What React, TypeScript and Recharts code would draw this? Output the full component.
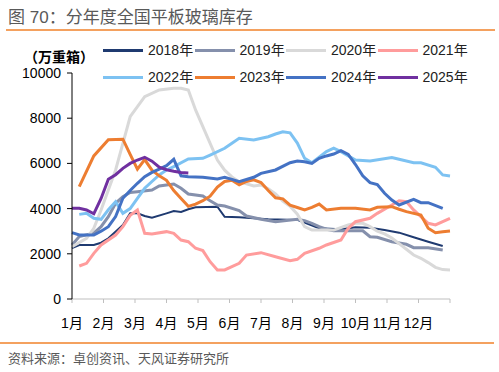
import React from 'react';
import { LineChart, Line, XAxis, YAxis } from 'recharts';

// ---- data (week of year, inventory in 10k weight boxes) ----
const months = ['1月', '2月', '3月', '4月', '5月', '6月', '7月', '8月', '9月', '10月', '11月', '12月'];
const yTicks = [0, 2000, 4000, 6000, 8000, 10000];

type P = [number, number];

const s2018: P[] = [[0, 2250], [1, 2390], [3, 2390], [4, 2490], [5, 2685], [7, 3275], [8, 3790], [9, 3790], [10, 3670], [11, 3600], [13, 3790], [14, 3890], [15, 3850], [16, 3970], [17, 4060], [20, 4085], [21, 3640], [23, 3615], [25, 3570], [27, 3525], [31, 3500], [34, 3130], [37, 3085], [39, 3175], [41, 3155], [43, 3050], [45, 2935], [47, 2730], [49, 2535], [51, 2345]];

const s2019: P[] = [[0, 2390], [1, 2760], [3, 2910], [4, 3200], [5, 3640], [6, 4235], [7, 4530], [8, 4710], [9, 4750], [11, 4825], [12, 5000], [13, 5045], [14, 5090], [15, 4900], [16, 4645], [18, 4560], [19, 4350], [20, 4160], [21, 4115], [23, 3910], [24, 3670], [26, 3525], [28, 3420], [31, 3525], [32, 3465], [33, 3350], [34, 3200], [35, 3085], [36, 3020], [40, 3020], [41, 2755], [42, 2730], [44, 2535], [46, 2420], [47, 2270], [49, 2270], [51, 2170]];

const s2020: P[] = [[0, 2315], [2, 2685], [3, 3130], [4, 3940], [5, 4825], [6, 5710], [7, 6890], [8, 8065], [10, 8950], [12, 9250], [14, 9325], [15, 9325], [16, 9250], [17, 8365], [18, 7625], [20, 6150], [21, 5700], [22, 5400], [23, 5190], [25, 5000], [26, 5045], [27, 4880], [28, 4650], [29, 4330], [30, 4100], [31, 3750], [32, 3200], [33, 3050], [36, 3050], [38, 3275], [39, 3350], [40, 3350], [41, 3200], [42, 3000], [43, 2880], [44, 2700], [45, 2450], [46, 2200], [47, 1945], [48, 1800], [49, 1610], [50, 1400], [51, 1300], [52, 1285]];

const s2021: P[] = [[1, 1460], [2, 1580], [3, 2020], [4, 2390], [6, 2830], [7, 3200], [8, 3700], [9, 3940], [10, 2905], [11, 2875], [13, 2980], [14, 2905], [15, 2610], [16, 2535], [17, 2245], [18, 2140], [19, 1650], [20, 1285], [21, 1285], [23, 1580], [24, 1945], [26, 2050], [28, 1870], [30, 1695], [31, 1755], [32, 2020], [34, 2245], [35, 2390], [37, 2610], [38, 3130], [39, 3420], [41, 3570], [42, 3790], [44, 4160], [45, 4350], [46, 4305], [47, 3940], [49, 3350], [50, 3275], [52, 3570]];

const s2022: P[] = [[1, 3745], [2, 3790], [3, 3570], [4, 3525], [5, 3950], [6, 4305], [7, 3790], [8, 4000], [9, 4455], [10, 4900], [11, 5200], [12, 5490], [13, 5710], [14, 5855], [16, 6195], [18, 6225], [19, 6370], [21, 6670], [22, 6890], [23, 7110], [25, 7035], [27, 7180], [28, 7300], [29, 7400], [30, 7350], [31, 6900], [32, 6225], [33, 6030], [34, 6270], [35, 6520], [36, 6670], [37, 6520], [39, 6150], [41, 6105], [44, 6255], [45, 6180], [47, 6030], [48, 6030], [50, 5830], [51, 5490], [52, 5445]];

const s2023: P[] = [[1, 4970], [3, 6330], [5, 7050], [7, 7070], [8, 6400], [9, 5750], [10, 6170], [11, 5700], [12, 5450], [13, 5250], [14, 4800], [15, 4450], [16, 4100], [17, 4200], [18, 4350], [19, 4550], [20, 4950], [21, 5200], [22, 5250], [23, 5050], [24, 5200], [25, 5270], [26, 5150], [27, 4800], [28, 4480], [29, 4430], [30, 4150], [31, 4050], [32, 3940], [33, 4050], [34, 4200], [35, 3940], [37, 4010], [39, 4010], [41, 3940], [42, 4060], [44, 4085], [45, 3970], [46, 3865], [48, 3715], [49, 3130], [50, 2935], [51, 2980], [52, 3010]];

const s2024: P[] = [[0, 2935], [1, 2830], [3, 2830], [4, 3000], [5, 3200], [6, 3650], [7, 4455], [8, 4800], [9, 5120], [10, 5410], [11, 5600], [12, 5750], [13, 5900], [14, 6180], [15, 5450], [16, 5410], [18, 5385], [20, 5310], [21, 5385], [22, 5295], [23, 5190], [25, 5385], [26, 5560], [28, 5710], [30, 6030], [31, 6105], [32, 6075], [33, 6000], [34, 6225], [35, 6330], [36, 6415], [37, 6560], [38, 6400], [39, 5950], [40, 5450], [41, 5150], [42, 5060], [43, 4680], [44, 4380], [45, 4160], [47, 4410], [48, 4260], [49, 4260], [51, 4010]];

const s2025: P[] = [[0, 4010], [1, 4010], [2, 3940], [3, 3770], [4, 4450], [5, 5300], [6, 5500], [7, 5780], [8, 6000], [9, 6150], [10, 6270], [11, 6100], [12, 5830], [13, 5720], [14, 5650], [15, 5600], [16, 5580]];

const seriesNames = ['2018年', '2019年', '2020年', '2021年', '2022年', '2023年', '2024年', '2025年'];
const seriesData = [s2018, s2019, s2020, s2021, s2022, s2023, s2024, s2025];
const seriesColors = ['#1F3A70', '#8590AC', '#D9D9D9', '#FF9C9C', '#7DC2F2', '#ED7D31', '#4472C4', '#7030A0'];
const seriesWidths = [2, 3, 3, 3, 3, 3, 3, 3];

const WEEKS = 52;
const monthTicks = [...months.map((_, i) => (i * WEEKS) / 12), WEEKS];

const FONT = "'Liberation Sans', 'Noto Sans CJK SC', sans-serif";

export default function App() {
  return (
    <div style={{ position: 'absolute', left: 0, top: 0, width: 499, height: 372, background: '#fff', fontFamily: FONT, overflow: 'hidden' }}>
      <div style={{ position: 'absolute', left: 8, top: 6, fontSize: 17, color: '#595959', whiteSpace: 'nowrap', lineHeight: '24px' }}>
        图 70：分年度全国平板玻璃库存
      </div>
      <div style={{ position: 'absolute', left: 6, top: 29, width: 489, height: 2, background: '#F4A15F' }} />
      <div style={{ position: 'absolute', left: 0, top: 342, width: 494, height: 2, background: '#F4A15F' }} />
      <div style={{ position: 'absolute', left: 8, top: 350, fontSize: 13, color: '#595959', whiteSpace: 'nowrap', lineHeight: '18px' }}>
        资料来源：卓创资讯、天风证券研究所
      </div>
      <div style={{ position: 'absolute', left: 0, top: 0 }}>
        <LineChart width={499} height={372} margin={{ top: 73, right: 49, bottom: 43, left: 0 }}>
          <XAxis
            type="number"
            dataKey="week"
            domain={[0, WEEKS]}
            ticks={monthTicks}
            interval={0}
            allowDuplicatedCategory={false}
            tickFormatter={(v: number) => months[Math.round((v * 12) / WEEKS)] ?? ''}
            stroke="#BFBFBF"
            tickSize={4}
            tickMargin={15}
            height={30}
            tick={{ fill: '#000', fontSize: 14, fontFamily: FONT }}
          />
          <YAxis
            type="number"
            domain={[0, 10000]}
            ticks={yTicks}
            interval={0}
            width={72}
            stroke="#000"
            tickSize={5}
            tickMargin={6}
            tick={{ fill: '#000', fontSize: 14, fontFamily: FONT }}
          />
          {seriesData.map((pts, i) => (
            <Line
              key={seriesNames[i]}
              data={pts.map(([w, v]) => ({ week: w, value: v }))}
              dataKey="value"
              name={seriesNames[i]}
              type="linear"
              stroke={seriesColors[i]}
              strokeWidth={seriesWidths[i]}
              dot={false}
              activeDot={false}
              isAnimationActive={false}
            />
          ))}
        </LineChart>
      </div>
      <div style={{ position: 'absolute', left: 24, top: 48, fontSize: 14, fontWeight: 'bold', color: '#000', whiteSpace: 'nowrap', lineHeight: '18px' }}>
        （万重箱）
      </div>
      {seriesNames.map((name, i) => (
        <div
          key={name}
          style={{ position: 'absolute', left: 103 + (i % 4) * 91.5, top: i < 4 ? 41 : 68, height: 18, display: 'flex', alignItems: 'center', whiteSpace: 'nowrap' }}
        >
          <div style={{ width: 40, height: 3, background: seriesColors[i] }} />
          <span style={{ marginLeft: 5, fontSize: 14, color: '#222', lineHeight: '18px' }}>{name}</span>
        </div>
      ))}
    </div>
  );
}
